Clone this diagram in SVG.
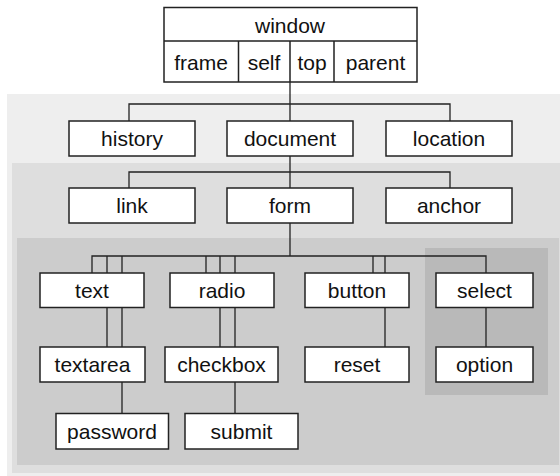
<svg xmlns="http://www.w3.org/2000/svg" width="560" height="476" viewBox="0 0 560 476">
<style>
.box{fill:#fff;stroke:#222;stroke-width:1.5}
.t{font-family:"Liberation Sans",Arial,sans-serif;font-size:21px;fill:#111;text-anchor:middle}
.c{fill:none;stroke:#222;stroke-width:1.3}
</style>
<g id="panels">
<rect x="7" y="94" width="553" height="382" fill="#eeeeee"/>
<rect x="12" y="163" width="548" height="310" fill="#dedede"/>
<rect x="17" y="238" width="542" height="227" fill="#cccccc"/>
<rect x="425" y="248" width="123" height="147" fill="#b9b9b9"/>
</g>
<g id="connectors" class="c">
<path d="M290 82V104M129 121V104H450V121M290 104V121"/>
<path d="M290 156V172M129 188V172H450V188M290 172V188"/>
<path d="M290 223V256M92 273V256H486V273M107 256V273M122 256V273M206 256V273M220 256V273M235 256V273M373 256V273M385 256V273"/>
<path d="M107 307V347M122 307V347M122 382V413"/>
<path d="M220 307V347M235 307V347M235 382V413"/>
<path d="M385 307V347M486 307V347"/>
</g>
<g id="window">
<rect class="box" x="164" y="7.5" width="253" height="74.5"/>
<path class="c" d="M164 41H417M238.5 41V82M290 41V82M334 41V82" style="stroke-width:1.5"/>
<text class="t" x="290" y="33">window</text>
<text class="t" x="201" y="70">frame</text>
<text class="t" x="264" y="70">self</text>
<text class="t" x="312" y="70">top</text>
<text class="t" x="375.5" y="70">parent</text>
</g>
<g id="history"><rect class="box" x="69" y="121" width="126" height="35"/><text class="t" x="132" y="146">history</text></g>
<g id="document"><rect class="box" x="227" y="121" width="126" height="35"/><text class="t" x="290" y="146">document</text></g>
<g id="location"><rect class="box" x="386" y="121" width="126" height="35"/><text class="t" x="449" y="146">location</text></g>
<g id="link"><rect class="box" x="69" y="188" width="126" height="35"/><text class="t" x="132" y="213">link</text></g>
<g id="form"><rect class="box" x="227" y="188" width="126" height="35"/><text class="t" x="290" y="213">form</text></g>
<g id="anchor"><rect class="box" x="386" y="188" width="126" height="35"/><text class="t" x="449" y="213">anchor</text></g>
<g id="text"><rect class="box" x="40" y="273" width="104" height="34.5"/><text class="t" x="92" y="298">text</text></g>
<g id="radio"><rect class="box" x="170" y="273" width="104" height="34.5"/><text class="t" x="222" y="298">radio</text></g>
<g id="button"><rect class="box" x="305" y="273" width="104" height="34.5"/><text class="t" x="357" y="298">button</text></g>
<g id="select"><rect class="box" x="436" y="273" width="97" height="34.5"/><text class="t" x="484.5" y="298">select</text></g>
<g id="textarea"><rect class="box" x="40" y="347" width="105" height="35"/><text class="t" x="92.5" y="372">textarea</text></g>
<g id="checkbox"><rect class="box" x="165" y="347" width="113" height="35"/><text class="t" x="221.5" y="372">checkbox</text></g>
<g id="reset"><rect class="box" x="305" y="347" width="104" height="35"/><text class="t" x="357" y="372">reset</text></g>
<g id="option"><rect class="box" x="436" y="347" width="97" height="35"/><text class="t" x="484.5" y="372">option</text></g>
<g id="password"><rect class="box" x="56" y="413.5" width="112.5" height="35.5"/><text class="t" x="112" y="439">password</text></g>
<g id="submit"><rect class="box" x="185" y="413.5" width="113" height="35.5"/><text class="t" x="241.5" y="439">submit</text></g>
</svg>
